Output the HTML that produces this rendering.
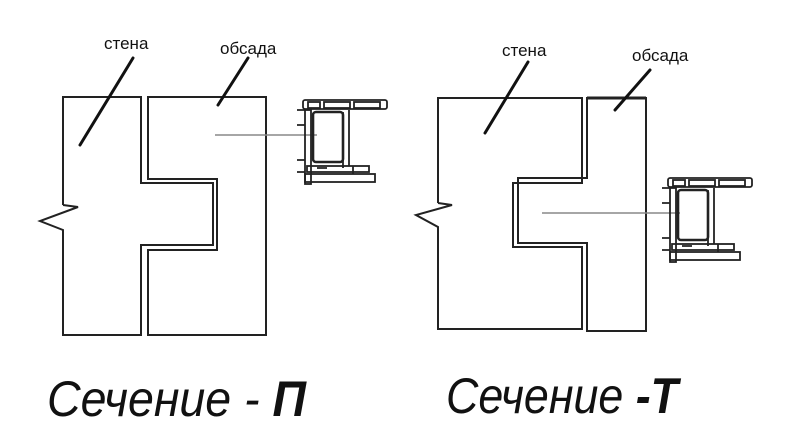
<!DOCTYPE html>
<html><head><meta charset="utf-8"><style>
html,body{margin:0;padding:0;background:#fff;}
svg{display:block;}
</style></head><body>
<svg width="800" height="429" viewBox="0 0 800 429" xmlns="http://www.w3.org/2000/svg">
<rect width="800" height="429" fill="#fff"/>
<defs>
<g id="prof" fill="none" stroke="#222" stroke-width="1.8">
  <rect x="6" y="0" width="84" height="9" rx="2"/>
  <rect x="11" y="2" width="12" height="6"/>
  <rect x="27" y="2" width="26" height="6"/>
  <rect x="57" y="2" width="26" height="6"/>
  <path d="M0 10 h8 M0 25 h8 M0 60 h8 M0 72 h8"/>
  <rect x="8" y="10" width="6" height="74"/>
  <rect x="16" y="12" width="30" height="50" rx="3" stroke-width="2.6"/>
  <path d="M46 12 v56 M52 10 v56"/>
  <rect x="10" y="66" width="62" height="6"/>
  <rect x="8" y="74" width="70" height="8"/>
  <path d="M20 68 h10 M56 66 v8"/>
</g>
</defs>

<g fill="none" stroke="#222" stroke-width="2">
  <path d="M63 205 V97 H141 V183 H213 V245 H141 V335 H63 V230 L40 221 L78 207 L63 205"/>
  <path d="M148 97 H266 V335 H148 V250 H217 V179 H148 Z"/>
  <path d="M438 203 V98 H582 V183 H513 V247 H582 V329 H438 V227 L416 215 L452 205 L438 203"/>
  <path d="M587 98 H646 V331 H587 V243 H518 V178 H587 Z"/>
  <path d="M587 98 H646" stroke-width="3"/>
</g>

<g stroke="#111" stroke-width="3" stroke-linecap="round">
  <line x1="133" y1="58" x2="80" y2="145"/>
  <line x1="248" y1="58" x2="218" y2="105"/>
  <line x1="528" y1="62" x2="485" y2="133"/>
  <line x1="650" y1="70" x2="615" y2="110"/>
</g>
<g stroke="#888" stroke-width="1.5">
  <line x1="215" y1="135" x2="317" y2="135"/>
  <line x1="542" y1="213" x2="680" y2="213"/>
</g>

<use href="#prof" transform="translate(297,100)"/>
<use href="#prof" transform="translate(662,178)"/>

<g font-family="Liberation Sans, DejaVu Sans, sans-serif" font-size="17" fill="#111">
  <text x="104" y="49">стена</text>
  <text x="220" y="54">обсада</text>
  <text x="502" y="56">стена</text>
  <text x="632" y="61">обсада</text>
</g>
<g font-family="Liberation Sans, DejaVu Sans, sans-serif" font-size="50" font-style="italic" fill="#111">
  <text x="47" y="416" textLength="259" lengthAdjust="spacingAndGlyphs">Сечение - <tspan font-weight="bold">П</tspan></text>
  <text x="446" y="413" textLength="232" lengthAdjust="spacingAndGlyphs">Сечение <tspan font-weight="bold">-Т</tspan></text>
</g>
</svg>
</body></html>
